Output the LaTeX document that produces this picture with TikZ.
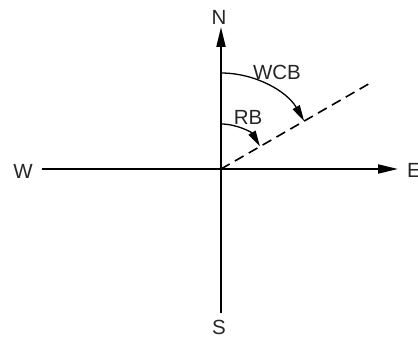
\documentclass[tikz,border=0pt]{standalone}
\usepackage{fontspec}
\setmainfont{Liberation Sans}
\usetikzlibrary{arrows.meta}
\begin{document}
\begin{tikzpicture}[x=1pt,y=1pt,
  axis/.style={line width=2pt,-{Triangle[length=20pt,width=9pt]}},
  bearing/.style={line width=1.3pt,-{Triangle[length=16pt,width=8pt]}},
  dirline/.style={line width=1.6pt,dash pattern=on 10pt off 6pt},
  lbl/.style={font=\fontsize{20.5}{24}\selectfont,inner sep=0pt,text=black!85}]
\useasboundingbox (-221,-168) rectangle (197,169);
\coordinate (O) at (0,0);
\coordinate (Wend) at (-179,0);
\coordinate (Etip) at (177,0);
\coordinate (Ntip) at (0,142);
\coordinate (Send) at (0,-144);
\coordinate (D) at (151,87);
\node[lbl] (N) at (-2,152) {N};
\node[lbl] (S) at (-2,-158) {S};
\node[lbl] (W) at (-198,-2) {W};
\node[lbl] (E) at (193,-1) {E};
\node[lbl] (WCB) at (56,97) {WCB};
\node[lbl] (RB) at (27,52) {RB};
\draw[axis] (Wend) -- (Etip);
\draw[axis] (Send) -- (Ntip);
\draw[dirline] (O) -- (D);
\draw[bearing] (0,96) arc[start angle=90,end angle=30,radius=96];
\draw[bearing] (0,45) arc[start angle=90,end angle=30,radius=45];
\end{tikzpicture}
\end{document}
